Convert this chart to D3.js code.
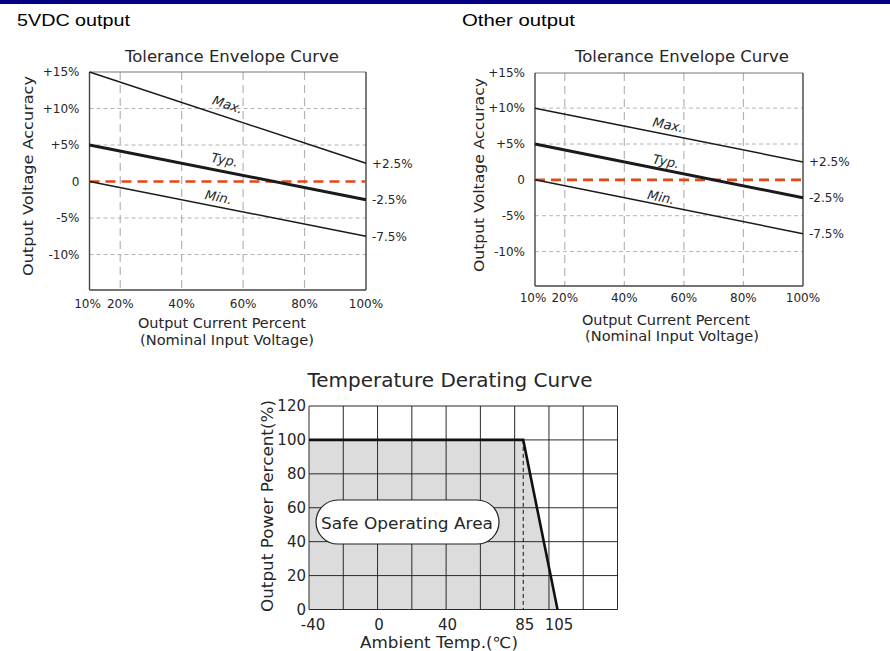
<!DOCTYPE html>
<html>
<head>
<meta charset="utf-8">
<script src="https://cdn.jsdelivr.net/npm/d3@7"></script>
<style>
  html, body { margin: 0; padding: 0; background: #fff; }
  svg { display: block; }
  text { font-family: "DejaVu Sans", sans-serif; fill: #262626; }
</style>
</head>
<body>
<svg id="chart" width="890" height="651"></svg>
<script>
// ---------------- DATA ----------------
const loadPct = [10, 100];                      // Output current percent (x)
const maxLeft = [15, 2.5];                      // 5VDC output
const typLeft = [5, -2.5];
const minLeft = [0, -7.5];
const maxRight = [10, 2.5];                     // Other output
const typRight = [5, -2.5];
const minRight = [0, -7.5];
const zeroRef = [0, 0];
const tolYTicks = [15, 10, 5, 0, -5, -10];
const tolYLabels = ["+15%", "+10%", "+5%", "0", "-5%", "-10%"];
const tolXTicks = [10, 20, 40, 60, 80, 100];
const tolXLabels = ["10%", "20%", "40%", "60%", "80%", "100%"];
const endLabels = ["+2.5%", "-2.5%", "-7.5%"];
const lineNames = ["Max.", "Typ.", "Min."];

const tempPts = [-40, 85, 105];                 // Ambient temperature (°C)
const powerPts = [100, 100, 0];                 // Output power percent
const tempXTicks = [-40, 0, 40, 85, 105];
const tempGridX = [-40, -20, 0, 20, 40, 60, 80, 100, 120, 140];
const powerTicks = [0, 20, 40, 60, 80, 100, 120];

// ---------------- DRAW ----------------
const svg = d3.select("#chart");
svg.append("rect").attr("x", 0).attr("y", 0).attr("width", 890).attr("height", 4).attr("fill", "#000080");

function tolerance(cfg) {
  const { x, y, series, heading, headX, title, titleX, titleY, ylabX, ylabY, ylabLen,
          xtickY, xt1Y, xt2Y, xt1X, xt2X, labelPos } = cfg;
  const g = svg.append("g");
  const [x0, x1] = x.range();
  const [y0, y1] = y.range(); // bottom, top

  g.append("text").attr("x", headX).attr("y", 26)
    .style("font-family", "'Liberation Sans', Arial, sans-serif").style("font-size", "16.5px")
    .attr("textLength", 113).attr("lengthAdjust", "spacingAndGlyphs")
    .text(heading).style("fill", "#000");

  g.append("text").attr("x", titleX).attr("y", titleY).attr("text-anchor", "middle")
    .style("font-size", "16px").attr("textLength", 214).attr("lengthAdjust", "spacingAndGlyphs")
    .text(title);

  // vertical dashed grid
  g.selectAll(".vg").data(tolXTicks.filter(d => d > 10 && d < 100)).join("line")
    .attr("x1", d => x(d)).attr("x2", d => x(d)).attr("y1", y1).attr("y2", y0)
    .attr("stroke", "#b4b4b4").attr("stroke-width", 1.2).attr("stroke-dasharray", "8,5");
  // horizontal dashed grid
  g.selectAll(".hg").data(tolYTicks.filter(d => d !== 15 && d !== 0)).join("line")
    .attr("x1", x0).attr("x2", x1).attr("y1", d => y(d)).attr("y2", d => y(d))
    .attr("stroke", "#b4b4b4").attr("stroke-width", 1).attr("stroke-dasharray", "4,3");

  // frame
  g.append("line").attr("x1", x0).attr("x2", x1).attr("y1", y1).attr("y2", y1).attr("stroke", "#777").attr("stroke-width", 1.2);
  g.append("line").attr("x1", x0).attr("x2", x1).attr("y1", y0).attr("y2", y0).attr("stroke", "#444").attr("stroke-width", 1.4);
  g.append("line").attr("x1", x0).attr("x2", x0).attr("y1", y1).attr("y2", y0).attr("stroke", "#444").attr("stroke-width", 1.4);
  g.append("line").attr("x1", x1).attr("x2", x1).attr("y1", y1).attr("y2", y0).attr("stroke", "#444").attr("stroke-width", 1.4);

  const line = d3.line().x(d => x(d[0])).y(d => y(d[1]));
  // zero reference (red dashed)
  g.append("path").datum(loadPct.map((v, i) => [v, zeroRef[i]])).attr("d", line)
    .attr("fill", "none").attr("stroke", "#e0471b").attr("stroke-width", 2.6).attr("stroke-dasharray", "10,6");

  series.forEach((s, k) => {
    g.append("path").datum(loadPct.map((v, i) => [v, s[i]])).attr("d", line)
      .attr("fill", "none").attr("stroke", "#1a1a1a").attr("stroke-width", k === 1 ? 3 : 1.5);
    // end label
    g.append("text").attr("x", x1 + 6).attr("y", y(s[1]) + 4.5).style("font-size", "12px").text(endLabels[k]);
    // name label along the line
    const lp = labelPos[k];
    const vx = lp[0];
    const vy = s[0] + (s[1] - s[0]) * (vx - loadPct[0]) / (loadPct[1] - loadPct[0]);
    const ang = Math.atan2(y(s[1]) - y(s[0]), x(loadPct[1]) - x(loadPct[0])) * 180 / Math.PI;
    g.append("text")
      .attr("transform", `translate(${x(vx)},${y(vy) - lp[1]}) rotate(${ang})`)
      .attr("text-anchor", "middle").attr("dy", "0.35em")
      .style("font-size", "13px").style("font-style", "italic")
      .text(lineNames[k]);
  });

  // y tick labels
  g.selectAll(".yt").data(tolYTicks).join("text")
    .attr("x", x0 - 10).attr("y", d => y(d)).attr("dy", "0.36em").attr("text-anchor", "end")
    .style("font-size", "12px").text((d, i) => tolYLabels[i]);
  // x tick labels
  g.selectAll(".xt").data(tolXTicks).join("text")
    .attr("x", (d, i) => x(d) + (i === 0 ? -2 : 0)).attr("y", xtickY).attr("text-anchor", "middle")
    .style("font-size", "12px").text((d, i) => tolXLabels[i]);

  g.append("text").attr("x", xt1X).attr("y", xt1Y).attr("text-anchor", "middle")
    .style("font-size", "14px").attr("textLength", 168).attr("lengthAdjust", "spacingAndGlyphs")
    .text("Output Current Percent");
  g.append("text").attr("x", xt2X).attr("y", xt2Y).attr("text-anchor", "middle")
    .style("font-size", "14px").attr("textLength", 174).attr("lengthAdjust", "spacingAndGlyphs")
    .text("(Nominal  Input  Voltage)");

  g.append("text").attr("transform", `translate(${ylabX},${ylabY}) rotate(-90)`).attr("text-anchor", "middle")
    .style("font-size", "14px").attr("textLength", ylabLen).attr("lengthAdjust", "spacingAndGlyphs")
    .text("Output  Voltage Accuracy");
}

tolerance({
  x: d3.scaleLinear().domain([10, 100]).range([89.5, 366]),
  y: d3.scaleLinear().domain([-14.86, 15]).range([290, 72]),
  series: [maxLeft, typLeft, minLeft],
  heading: "5VDC output", headX: 17,
  title: "Tolerance Envelope  Curve", titleX: 232, titleY: 62,
  ylabX: 33, ylabY: 176, ylabLen: 200,
  xtickY: 308, xt1X: 222, xt1Y: 328, xt2X: 227, xt2Y: 345,
  labelPos: [[55, 13], [54, 12], [52, 10]]
});

tolerance({
  x: d3.scaleLinear().domain([10, 100]).range([535, 803]),
  y: d3.scaleLinear().domain([-14.8, 14.9]).range([286, 73]),
  series: [maxRight, typRight, minRight],
  heading: "Other output", headX: 462,
  title: "Tolerance Envelope  Curve", titleX: 682, titleY: 62,
  ylabX: 484, ylabY: 175, ylabLen: 194,
  xtickY: 302, xt1X: 666, xt1Y: 325, xt2X: 672, xt2Y: 341,
  labelPos: [[54.7, 10], [54, 9], [52.3, 8]]
});

// ---------------- Temperature derating ----------------
(function () {
  const x = d3.scaleLinear().domain([-40, 140]).range([309, 617.5]);
  const y = d3.scaleLinear().domain([0, 120]).range([609.5, 406]);
  const g = svg.append("g");
  const lineGen = d3.line().x(d => x(d[0])).y(d => y(d[1]));

  g.append("text").attr("x", 450).attr("y", 387).attr("text-anchor", "middle")
    .style("font-size", "19px").attr("textLength", 285).attr("lengthAdjust", "spacingAndGlyphs")
    .text("Temperature Derating Curve");

  // safe area fill
  const poly = [[tempPts[0], 0]].concat(tempPts.map((t, i) => [t, powerPts[i]]));
  g.append("path").datum(poly)
    .attr("d", d => lineGen(d) + "Z")
    .attr("fill", "#dcdcdc");

  // grid
  g.selectAll(".gx").data(tempGridX).join("line")
    .attr("x1", d => x(d)).attr("x2", d => x(d)).attr("y1", y(120)).attr("y2", y(0))
    .attr("stroke", "#2a2a2a").attr("stroke-width", 1);
  g.selectAll(".gy").data(powerTicks).join("line")
    .attr("x1", x(-40)).attr("x2", x(140)).attr("y1", d => y(d)).attr("y2", d => y(d))
    .attr("stroke", "#2a2a2a").attr("stroke-width", 1);

  // 85 dashed marker
  g.append("line").attr("x1", x(85)).attr("x2", x(85)).attr("y1", y(100)).attr("y2", y(0))
    .attr("stroke", "#111").attr("stroke-width", 1).attr("stroke-dasharray", "4,3");

  // derating line
  g.append("path").datum(tempPts.map((t, i) => [t, powerPts[i]]))
    .attr("d", lineGen)
    .attr("fill", "none").attr("stroke", "#111").attr("stroke-width", 2.6);

  // safe operating area label
  g.append("rect").attr("x", 316).attr("y", 500).attr("width", 183).attr("height", 44)
    .attr("rx", 22).attr("ry", 22).attr("fill", "#fff").attr("stroke", "#222").attr("stroke-width", 1.2);
  g.append("text").attr("x", 407).attr("y", 529).attr("text-anchor", "middle")
    .style("font-size", "16px").attr("textLength", 172).attr("lengthAdjust", "spacingAndGlyphs")
    .text("Safe Operating Area");

  // ticks
  g.selectAll(".yt").data(powerTicks).join("text")
    .attr("x", 306).attr("y", d => y(d)).attr("dy", "0.36em").attr("text-anchor", "end")
    .style("font-size", "15px").text(d => d);
  g.selectAll(".xt").data(tempXTicks).join("text")
    .attr("x", d => x(d) + (d === -40 ? 4 : 1.5)).attr("y", 630).attr("text-anchor", "middle")
    .style("font-size", "15px").text(d => d);

  g.append("text").attr("x", 439).attr("y", 648).attr("text-anchor", "middle")
    .style("font-size", "15px").attr("textLength", 158).attr("lengthAdjust", "spacingAndGlyphs")
    .text("Ambient  Temp.(℃)");

  g.append("text").attr("transform", "translate(273,506) rotate(-90)").attr("text-anchor", "middle")
    .style("font-size", "16px").attr("textLength", 212).attr("lengthAdjust", "spacingAndGlyphs")
    .text("Output Power  Percent(%)");
})();
</script>
</body>
</html>
